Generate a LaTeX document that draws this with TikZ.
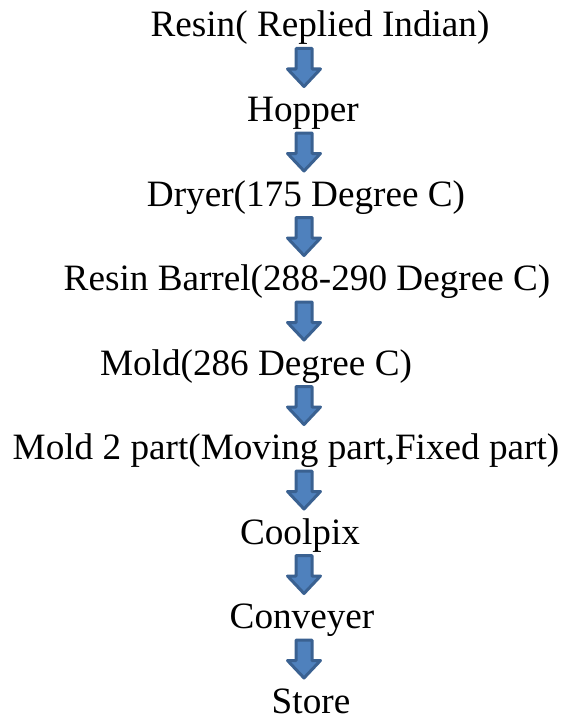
\documentclass[tikz,border=0pt]{standalone}
\usepackage{fontspec}
\setmainfont{Liberation Serif}
\usetikzlibrary{calc}
\definecolor{arrowfill}{HTML}{4F81BD}
\definecolor{arrowline}{HTML}{3A6191}
\tikzset{
  steplabel/.style={anchor=base, inner sep=0pt, font=\fontsize{37.2}{45}\selectfont},
  blockarrow/.style={fill=arrowfill, draw=arrowline, line width=3pt, line join=round}
}
% block arrow hanging from a coordinate: shaft then head
\newcommand{\downblock}[1]{%
  \draw[blockarrow] ($(#1)+(-8,1.5)$) -- ($(#1)+(8,1.5)$) -- ($(#1)+(8,22)$)
    -- ($(#1)+(16.5,22)$) -- ($(#1)+(0,39.5)$) -- ($(#1)+(-16.5,22)$)
    -- ($(#1)+(-8,22)$) -- cycle;}
\begin{document}
\begin{tikzpicture}[x=1pt,y=-1pt]
\useasboundingbox (0,0) rectangle (566,725);
\node[steplabel] (s1) at (320,37) {Resin( Replied Indian)};
\node[steplabel] (s2) at (303,121.5) {Hopper};
\node[steplabel] (s3) at (306,206) {Dryer(175 Degree C)};
\node[steplabel] (s4) at (307,290.5) {Resin Barrel(288-290 Degree C)};
\node[steplabel] (s5) at (256,375) {Mold(286 Degree C)};
\node[steplabel] (s6) at (286,459.5) {Mold 2 part(Moving part,Fixed part)};
\node[steplabel] (s7) at (300,544) {Coolpix};
\node[steplabel] (s8) at (302,628.5) {Conveyer};
\node[steplabel] (s9) at (311,713) {Store};
\foreach \y [count=\i] in {47,131.5,216,300.5,385,469.5,554,638.5} {
  \coordinate (a\i) at (304,\y);
  \downblock{a\i}
}
\end{tikzpicture}
\end{document}
